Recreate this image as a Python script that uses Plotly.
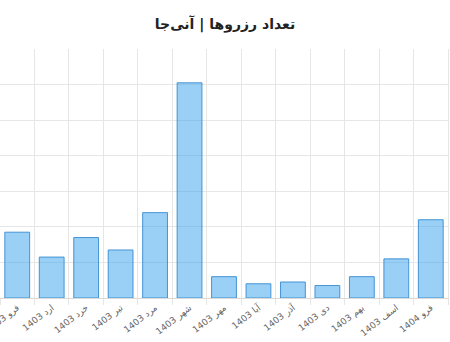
import plotly.graph_objects as go

months = ["فرو 1403", "ارد 1403", "خرد 1403", "تیر 1403", "مرد 1403", "شهر 1403",
          "مهر 1403", "آبا 1403", "آذر 1403", "دی 1403", "بهم 1403", "اسف 1403", "فرو 1404"]
reservations = [37, 23, 34, 27, 48, 121, 12, 8, 9, 7, 12, 22, 44]
title_text = "تعداد رزروها | آنی‌جا"

fig = go.Figure()
fig.add_trace(go.Bar(
    x=months, y=reservations,
    marker=dict(color="rgba(54,162,235,0.5)", line=dict(color="rgba(54,140,210,0.9)", width=1)),
))

fig.update_layout(
    width=450, height=342,
    margin=dict(l=0, r=2, t=49, b=44, autoexpand=False),
    paper_bgcolor="white", plot_bgcolor="white",
    bargap=0.28,
    showlegend=False,
    title=dict(text=title_text, x=0.5, xanchor="center", y=0.93, yanchor="middle",
               font=dict(family="DejaVu Sans", size=14, color="#222", weight="bold")),
    font=dict(family="DejaVu Sans, Liberation Sans", size=10, color="#666"),
)
fig.update_xaxes(
    type="category", tickson="boundaries", showgrid=True, gridcolor="#e6e6e6", gridwidth=1,
    ticks="outside", ticklen=6, tickcolor="#e6e6e6", automargin=False,
    tickangle=-38, tickfont=dict(size=9, color="#666"),
    showline=True, linecolor="#d9d9d9", linewidth=1, mirror=False,
)
fig.update_yaxes(
    range=[0, 140], dtick=20, showgrid=True, gridcolor="#e6e6e6", gridwidth=1, automargin=False,
    showticklabels=False, zeroline=False, showline=True, linecolor="#e6e6e6", mirror=True,
)

fig.write_html("out.html")
